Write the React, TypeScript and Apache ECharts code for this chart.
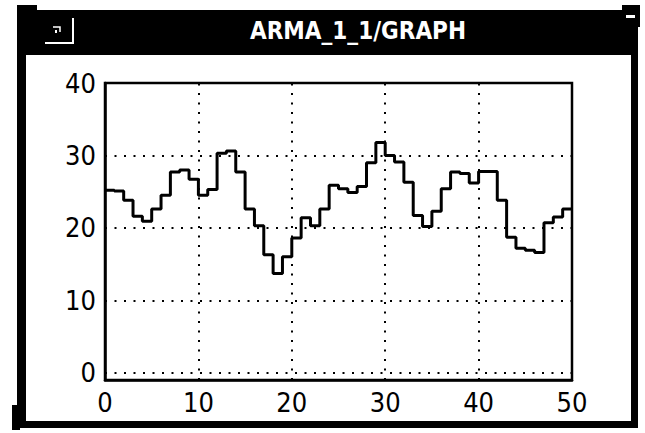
import React, { useEffect, useRef } from "react";
import * as echarts from "echarts";

const titleText = "ARMA_1_1/GRAPH";
const xTicks = [0, 10, 20, 30, 40, 50];
const yTicks = [0, 10, 20, 30, 40];
const values = [
  25.2, 25.1, 23.8, 21.6, 20.9, 22.6, 24.5, 27.7, 28.0, 26.7,
  24.5, 25.3, 30.3, 30.6, 27.7, 22.6, 20.3, 16.3, 13.7, 16.0,
  18.6, 21.4, 20.3, 22.6, 25.9, 25.4, 24.9, 25.7, 29.0, 31.8,
  30.0, 29.1, 26.3, 21.7, 20.2, 22.3, 25.4, 27.7, 27.5, 26.2,
  27.8, 27.8, 23.8, 18.7, 17.2, 16.9, 16.6, 20.7, 21.5, 22.6,
];

export default function App() {
  const ref = useRef<HTMLDivElement>(null);
  useEffect(() => {
    if (!ref.current) return;
    const chart = echarts.init(ref.current, null, { renderer: "svg" });
    const pts: number[][] = values.map((v, i) => [i, v]);
    pts.push([values.length, values[values.length - 1]]);
    const gridMarks = [
      ...yTicks.slice(0, yTicks.length - 1).map((v) => ({ yAxis: v })),
      ...xTicks.slice(1, xTicks.length - 1).map((v) => ({ xAxis: v })),
    ];
    const labelFont = {
      fontFamily: "'Liberation Sans Narrow', 'DejaVu Sans Condensed', sans-serif",
      fontSize: 27,
      color: "#000",
    };
    chart.setOption({
      animation: false,
      backgroundColor: "#fff",
      grid: {
        left: 105,
        top: 83,
        right: 73,
        bottom: 53,
        show: true,
        borderColor: "#000",
        borderWidth: 2.5,
        containLabel: false,
      },
      xAxis: {
        type: "value",
        min: 0,
        max: 50,
        interval: 10,
        axisLine: { show: true, onZero: false, lineStyle: { color: "#000", width: 2.5 } },
        axisTick: { show: false },
        splitLine: { show: false },
        axisLabel: { ...labelFont, margin: 9, customValues: xTicks },
      },
      yAxis: {
        type: "value",
        min: -1,
        max: 40,
        axisLine: { show: true, onZero: false, lineStyle: { color: "#000", width: 2.5 } },
        axisTick: { show: false },
        splitLine: { show: false },
        axisLabel: {
          ...labelFont,
          margin: 9,
          padding: [0, 0, 6, 0],
          customValues: yTicks,
        },
      },
      series: [
        {
          type: "line",
          step: "end",
          data: pts,
          symbol: "none",
          lineStyle: { color: "#000", width: 3 },
          z: 5,
          markLine: {
            silent: true,
            symbol: ["none", "none"],
            label: { show: false },
            lineStyle: { color: "#000", type: [2, 7.5], width: 2 },
            data: gridMarks,
            z: 2,
          },
        },
      ],
      graphic: [
        { type: "rect", shape: { x: 17, y: 10, width: 621, height: 45 }, style: { fill: "#000" } },
        { type: "rect", shape: { x: 17, y: 5, width: 20, height: 10 }, style: { fill: "#000" } },
        { type: "rect", shape: { x: 17, y: 10, width: 9, height: 414 }, style: { fill: "#000" } },
        { type: "rect", shape: { x: 12, y: 421, width: 626, height: 7 }, style: { fill: "#000" } },
        { type: "rect", shape: { x: 12, y: 405, width: 8, height: 25 }, style: { fill: "#000" } },
        { type: "rect", shape: { x: 631, y: 10, width: 7, height: 418 }, style: { fill: "#000" } },
        { type: "rect", shape: { x: 622, y: 5, width: 18, height: 22 }, style: { fill: "#000" } },
        { type: "rect", shape: { x: 626, y: 15, width: 9, height: 3 }, style: { fill: "#fff" } },
        {
          type: "polyline",
          shape: { points: [[45, 43], [73, 43], [73, 18]] },
          style: { stroke: "#fff", lineWidth: 2, fill: "none" },
        },
        {
          type: "polyline",
          shape: { points: [[53, 27], [60, 27], [60, 32]] },
          style: { stroke: "#fff", lineWidth: 1.5, fill: "none" },
        },
        { type: "rect", shape: { x: 55, y: 30, width: 2, height: 3 }, style: { fill: "#fff" } },
        {
          type: "text",
          x: 358,
          y: 31,
          style: {
            text: titleText,
            fill: "#fff",
            fontSize: 24,
            fontWeight: "bold",
            fontFamily: "'DejaVu Sans Condensed', 'DejaVu Sans', sans-serif",
            align: "center",
            verticalAlign: "middle",
          },
        },
      ],
    });
    return () => chart.dispose();
  }, []);
  return (
    <div
      ref={ref}
      style={{ position: "fixed", left: 0, top: 0, width: 645, height: 433, background: "#fff" }}
    />
  );
}
